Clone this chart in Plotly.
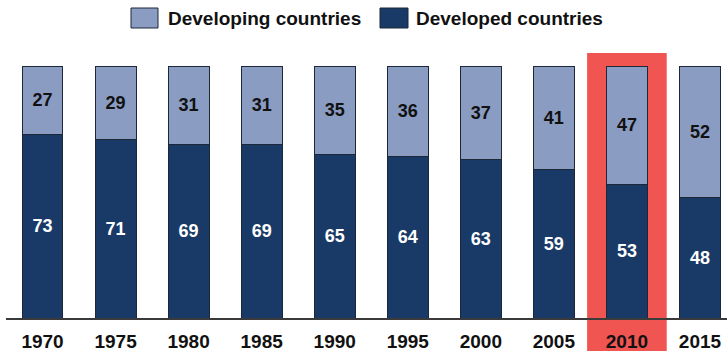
import plotly.graph_objects as go

years = ["1970", "1975", "1980", "1985", "1990", "1995", "2000", "2005", "2010", "2015"]
developed = [73, 71, 69, 69, 65, 64, 63, 59, 53, 48]
developing = [27, 29, 31, 31, 35, 36, 37, 41, 47, 52]
highlight_year = "2010"

light = "#8a9cc1"
dark = "#193a66"
edge = "#1c2738"
red = "#f05552"

W, H = 727, 351
ml, mr, mt, mb = 6, 0, 53, 33
plot_h = H - mt - mb
ytop = 100 * plot_h / (318 - 66)

fig = go.Figure()
fig.add_trace(go.Bar(
    x=list(range(len(years))), y=developed, name="Developed countries",
    marker=dict(color=dark, line=dict(color=edge, width=1)),
    text=[str(v) for v in developed], textposition="inside", insidetextanchor="middle",
    textfont=dict(family="Liberation Sans", size=18, color="white"),
    width=0.56, showlegend=False, cliponaxis=False,
))
fig.add_trace(go.Bar(
    x=list(range(len(years))), y=developing, name="Developing countries",
    marker=dict(color=light, line=dict(color=edge, width=1)),
    text=[str(v) for v in developing], textposition="inside", insidetextanchor="middle",
    textfont=dict(family="Liberation Sans", size=18, color="#111111"),
    width=0.56, showlegend=False,
))

hi = years.index(highlight_year)
fig.add_shape(type="rect", xref="x", yref="paper",
              x0=hi - 0.545, x1=hi + 0.545, y0=-mb / plot_h - 0.01, y1=1.0,
              fillcolor=red, line=dict(width=0), layer="below")

# custom legend
px = lambda x: (x - ml) / (W - ml - mr)
py = lambda y: (H - mb - y) / plot_h
legend_items = [("Developing countries", light, 131, 158, 166), ("Developed countries", dark, 380, 408, 414)]
for label, col, s0, s1, tx in legend_items:
    fig.add_shape(type="rect", xref="paper", yref="paper",
                  x0=px(s0), x1=px(s1), y0=py(28), y1=py(8),
                  fillcolor=col, line=dict(color=edge, width=1))
    fig.add_annotation(xref="paper", yref="paper", x=px(tx), y=py(18),
                       text="<b>" + label + "</b>", showarrow=False,
                       xanchor="left", yanchor="middle",
                       font=dict(family="Liberation Sans", size=19, color="#111111"))

fig.update_layout(
    width=W, height=H, barmode="stack",
    margin=dict(l=ml, r=mr, t=mt, b=mb),
    paper_bgcolor="white", plot_bgcolor="rgba(0,0,0,0)",
    uniformtext=dict(minsize=10, mode="show"),
    font=dict(family="Liberation Sans"),
)
fig.update_traces(texttemplate="<b>%{text}</b>")
fig.update_xaxes(
    range=[-0.5, 9.37], tickmode="array", tickvals=list(range(len(years))),
    ticktext=["<b>" + y + "</b>" for y in years],
    tickfont=dict(family="Liberation Sans", size=19, color="#111111"),
    ticklabelstandoff=5,
    showline=True, linecolor="#3a3a3a", linewidth=1.5, showgrid=False,
    zeroline=False, ticks="",
)
fig.update_yaxes(range=[0, ytop], visible=False, showgrid=False)

fig.write_html("out.html")
